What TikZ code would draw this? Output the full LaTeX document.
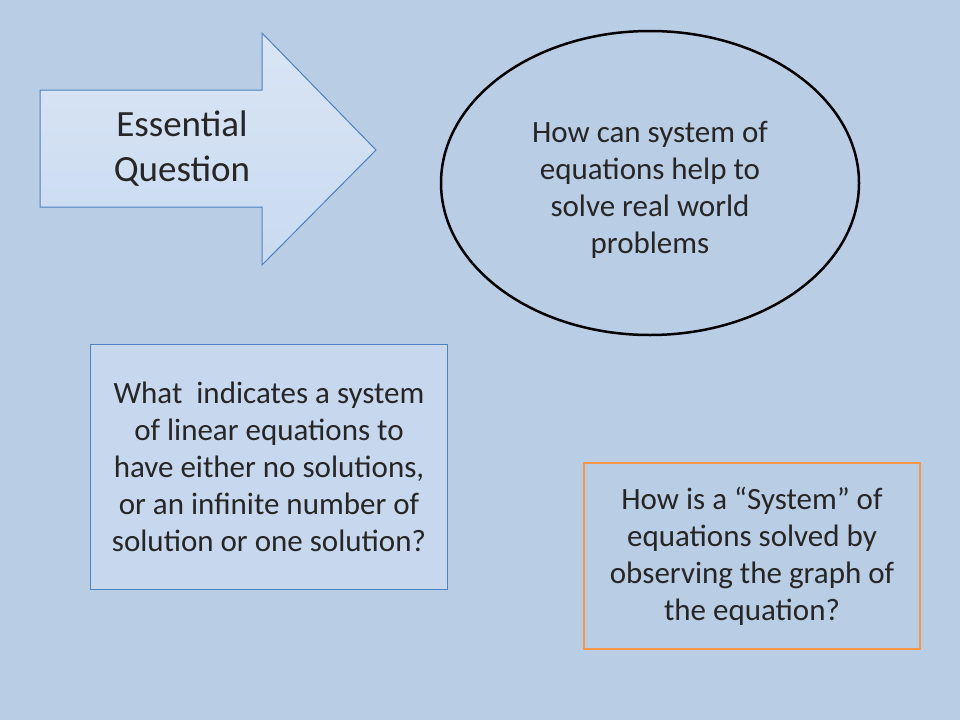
\documentclass[tikz,border=0pt]{standalone}
\usepackage{fontspec}
\setmainfont{Carlito}
\usetikzlibrary{shapes.geometric}
\begin{document}
\begin{tikzpicture}[x=1pt,y=-1pt,
  txt/.style={align=center,font=\fontsize{31}{37}\selectfont,text=black!85}]
\definecolor{bg}{HTML}{B9CDE5}
\definecolor{edgeblue}{HTML}{4F81BD}
\definecolor{fillblue}{HTML}{C9DAF0}
\definecolor{orange}{HTML}{F79646}
\fill[bg] (0,0) rectangle (960,720);
\useasboundingbox (0,0) rectangle (960,720);
\path[draw=edgeblue,line width=1pt,top color=fillblue!70!white,bottom color=fillblue]
  (40,90) -- (262,90) -- (262,33) -- (376,150) -- (262,265) -- (262,207) -- (40,207) -- cycle;
\node[txt,font=\fontsize{37}{45}\selectfont] (eq) at (182,149) {Essential\\Question};
\node[draw=black,line width=2.5pt,fill=bg,ellipse,minimum width=418pt,minimum height=304pt,inner sep=0pt] (ell) at (650,183) {};
\node[txt] at (650,190) {How can system of\\equations help to\\solve real world\\problems};
\node[draw=edgeblue,line width=1pt,fill=fillblue!80!bg,minimum width=357pt,minimum height=245pt,txt] (q1) at (269,467)
 {What\ \ indicates a system\\of linear equations to\\have either no solutions,\\or an infinite number of\\solution or one solution?};
\node[draw=orange,line width=1.8pt,fill=bg,minimum width=336pt,minimum height=186pt,txt] (q2) at (752,556)
 {How is a ``System'' of\\equations solved by\\observing the graph of\\the equation?};
\end{tikzpicture}
\end{document}
